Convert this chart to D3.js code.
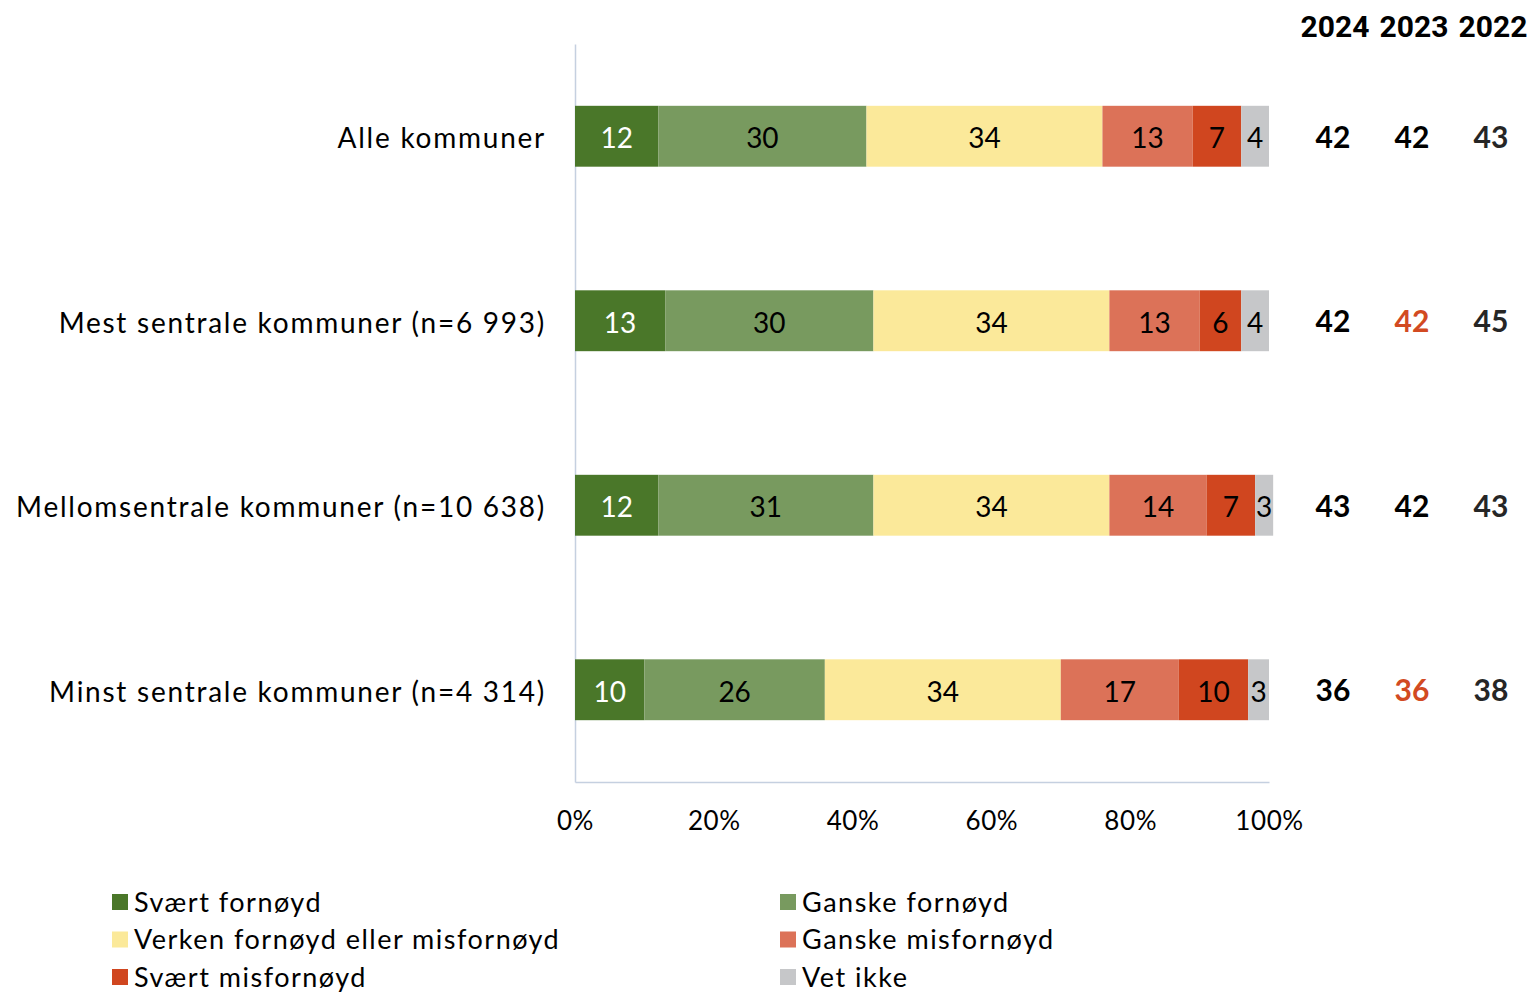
<!DOCTYPE html>
<html><head><meta charset="utf-8">
<script src="https://cdn.jsdelivr.net/npm/d3@7"></script>
<style>
body{margin:0;background:#fff;}
svg{display:block;font-family:"Lato","Open Sans",sans-serif;}
</style></head>
<body><svg id="chart" width="1534" height="992"></svg>
<script>
const categories = ["Alle kommuner","Mest sentrale kommuner (n=6 993)","Mellomsentrale kommuner (n=10 638)","Minst sentrale kommuner (n=4 314)"];
const seriesNames = ["Svært fornøyd","Ganske fornøyd","Verken fornøyd eller misfornøyd","Ganske misfornøyd","Svært misfornøyd","Vet ikke"];
const seriesColors = ["#4a7729","#789a5f","#fbe99a","#dc7258","#d0461f","#c6c7c9"];
const svaertFornoyd   = [12, 13, 12, 10];
const ganskeFornoyd   = [30, 30, 31, 26];
const verken          = [34, 34, 34, 34];
const ganskeMisfornoyd= [13, 13, 14, 17];
const svaertMisfornoyd= [7, 6, 7, 10];
const vetIkke         = [4, 4, 2.6, 3];
const years = ["2024","2023","2022"];
const sat2024 = [42, 42, 43, 36];
const sat2023 = [42, 42, 42, 36];
const sat2022 = [43, 45, 43, 38];
const highlight2023 = [false, true, false, true];
const xTicks = [0, 20, 40, 60, 80, 100];

const seriesValues = [svaertFornoyd, ganskeFornoyd, verken, ganskeMisfornoyd, svaertMisfornoyd, vetIkke];
const rows = categories.map((c,i)=>{const o={cat:c}; seriesNames.forEach((s,j)=>o[s]=seriesValues[j][i]); return o;});
const stack = d3.stack().keys(seriesNames)(rows);

const svg = d3.select("#chart");
const x = d3.scaleLinear().domain([0,100]).range([575,1269]);
const y = d3.scaleBand().domain(categories).range([44,782]).paddingInner(0.67).paddingOuter(0.335);
const axisColor = "#c5d0e0";

// axes
const xAxis = svg.append("g").attr("transform","translate(0,782)")
  .call(d3.axisBottom(x).tickValues(xTicks).tickFormat(d=>d+"%").tickSize(0).tickPadding(30));
xAxis.select(".domain").attr("stroke",axisColor).attr("stroke-width",1.5);
xAxis.selectAll("text").attr("font-size",26).attr("fill","#000").attr("font-family","Lato").attr("letter-spacing","0.6px");

const yAxis = svg.append("g").attr("transform","translate(575,0)")
  .call(d3.axisLeft(y).tickSize(0).tickPadding(29));
yAxis.select(".domain").attr("stroke",axisColor).attr("stroke-width",1.5);
yAxis.selectAll("text").attr("font-size",28).attr("fill","#000").attr("font-family","Lato")
  .attr("letter-spacing","1.75px").attr("dy","0.42em");

// bars
const layers = svg.append("g").selectAll("g").data(stack).join("g").attr("fill",(d,i)=>seriesColors[i]);
layers.selectAll("rect").data(d=>d).join("rect")
  .attr("x",d=>x(d[0])).attr("width",d=>x(d[1])-x(d[0]))
  .attr("y",d=>y(d.data.cat)).attr("height",y.bandwidth());
layers.each(function(layer,i){
  d3.select(this).selectAll("text").data(layer).join("text")
    .attr("x",d=>(x(d[0])+x(d[1]))/2)
    .attr("y",d=>y(d.data.cat)+y.bandwidth()/2)
    .attr("dy","0.42em").attr("text-anchor","middle")
    .attr("font-size",28).attr("fill",i===0?"#fff":"#000")
    .text(d=>Math.round(d[1]-d[0]));
});

// right-side columns
const colX = d3.scalePoint().domain(years).range([1335,1493]);
svg.append("g").selectAll("text").data(years).join("text")
  .attr("x",d=>colX(d)).attr("y",26).attr("dy","0.36em").attr("text-anchor","middle")
  .attr("font-size",30).attr("font-weight","bold").attr("fill","#000").attr("font-family","Roboto")
  .text(d=>d);
const colData = [sat2024, sat2023, sat2022];
years.forEach((yr,k)=>{
  svg.append("g").selectAll("text").data(colData[k]).join("text")
    .attr("x",colX(yr)-2).attr("y",(d,i)=>y(categories[i])+y.bandwidth()/2)
    .attr("dy","0.38em").attr("text-anchor","middle")
    .attr("font-size",30).attr("font-weight","bold")
    .attr("fill",(d,i)=> (k===1 && highlight2023[i]) ? "#d24a22" : (k===2 ? "#262626" : "#000"))
    .text(d=>d);
});

// legend
const legend = svg.append("g");
const legItems = seriesNames.map((n,i)=>({n,c:seriesColors[i],col:i%2,row:Math.floor(i/2)}));
const lg = legend.selectAll("g").data(legItems).join("g")
  .attr("transform",d=>`translate(${d.col?780:112},${902+d.row*37.5})`);
lg.append("rect").attr("x",0).attr("y",-8).attr("width",16).attr("height",16).attr("fill",d=>d.c);
lg.append("text").attr("x",22).attr("dy","0.36em").attr("font-size",27).attr("fill","#000")
  .attr("letter-spacing","1.5px").text(d=>d.n);
</script></body></html>
